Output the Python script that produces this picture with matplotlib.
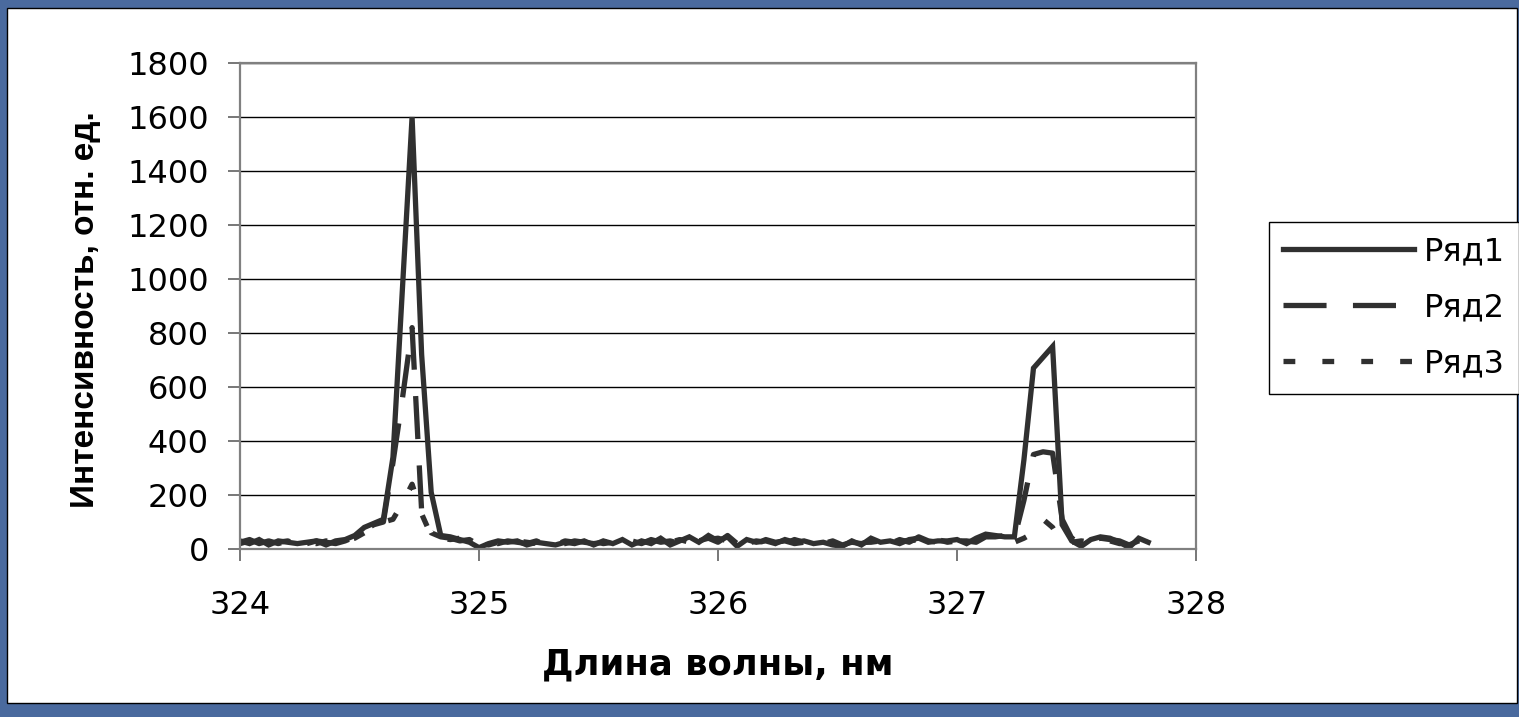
import matplotlib
matplotlib.use("Agg")
import matplotlib.pyplot as plt
from matplotlib.patches import Rectangle

# wavelength grid, nm
wavelength = [324.00, 324.04, 324.08, 324.12, 324.16, 324.20, 324.24, 324.28, 324.32, 324.36,
              324.40, 324.44, 324.48, 324.52, 324.56, 324.60, 324.64, 324.68, 324.72, 324.76,
              324.80, 324.84, 324.88, 324.92, 324.96, 325.00, 325.04, 325.08, 325.12, 325.16,
              325.20, 325.24, 325.28, 325.32, 325.36, 325.40, 325.44, 325.48, 325.52, 325.56,
              325.60, 325.64, 325.68, 325.72, 325.76, 325.80, 325.84, 325.88, 325.92, 325.96,
              326.00, 326.04, 326.08, 326.12, 326.16, 326.20, 326.24, 326.28, 326.32, 326.36,
              326.40, 326.44, 326.48, 326.52, 326.56, 326.60, 326.64, 326.68, 326.72, 326.76,
              326.80, 326.84, 326.88, 326.92, 326.96, 327.00, 327.04, 327.08, 327.12, 327.16,
              327.20, 327.24, 327.28, 327.32, 327.36, 327.40, 327.44, 327.48, 327.52, 327.56,
              327.60, 327.64, 327.68, 327.72, 327.76, 327.80]

row1 = [30, 20, 35, 15, 30, 25, 20, 25, 30, 15,
        30, 35, 50, 80, 95, 110, 340, 970, 1600, 720,
        210, 50, 45, 35, 25, 5, 20, 30, 25, 30,
        15, 25, 20, 15, 25, 20, 30, 15, 30, 20,
        35, 15, 30, 20, 40, 15, 30, 45, 25, 50,
        30, 45, 10, 35, 25, 30, 20, 35, 25, 30,
        20, 25, 15, 10, 30, 15, 40, 25, 30, 20,
        35, 40, 25, 30, 30, 35, 20, 40, 55, 50,
        45, 45, 330, 670, 710, 750, 90, 30, 10, 35,
        45, 40, 25, 5, 40, 25]

row2 = [25, 35, 20, 30, 20, 30, 25, 20, 30, 25,
        20, 30, 45, 70, 90, 100, 320, 560, 820, 140,
        60, 45, 40, 30, 35, 15, 25, 20, 30, 25,
        20, 30, 15, 25, 20, 30, 25, 20, 25, 30,
        25, 30, 20, 35, 25, 30, 20, 35, 30, 40,
        25, 50, 20, 30, 20, 35, 25, 30, 20, 25,
        30, 20, 30, 15, 25, 20, 30, 35, 20, 35,
        25, 45, 30, 25, 35, 30, 30, 25, 45, 45,
        50, 40, 180, 350, 360, 355, 110, 40, 20, 30,
        40, 35, 30, 15, 30, 30]

row3 = [20, 30, 25, 20, 25, 30, 15, 25, 20, 30,
        25, 30, 40, 60, 80, 100, 110, 170, 240, 130,
        50, 40, 35, 40, 25, 20, 15, 25, 20, 30,
        25, 20, 25, 15, 30, 25, 20, 30, 20, 25,
        30, 20, 25, 30, 20, 25, 35, 25, 30, 35,
        40, 30, 25, 20, 30, 25, 30, 20, 35, 25,
        25, 30, 20, 20, 15, 25, 25, 30, 25, 30,
        30, 35, 20, 35, 25, 30, 25, 35, 50, 40,
        40, 25, 40, 60, 110, 80, 20, 25, 30, 25,
        35, 30, 20, 20, 25, 35]

series_names = ["Ряд1", "Ряд2", "Ряд3"]
x_ticks = [324, 325, 326, 327, 328]
y_ticks = [0, 200, 400, 600, 800, 1000, 1200, 1400, 1600, 1800]

plt.rcParams['font.family'] = ['DejaVu Sans']
plt.rcParams['lines.scale_dashes'] = False

W, H = 1519, 717
fig = plt.figure(figsize=(W / 100, H / 100), dpi=100)
fig.patch.set_facecolor('#4a6a9e')
fig.add_artist(Rectangle((7 / W, 1 - 703 / H), (1517 - 7) / W, (703 - 8) / H,
                         transform=fig.transFigure, facecolor='white',
                         edgecolor='black', lw=1, zorder=0))

ax = fig.add_axes([240 / W, 1 - 549 / H, (1196 - 240) / W, (549 - 63) / H])
ax.set_facecolor('white')

col = '#303030'
ax.plot(wavelength, row1, color=col, lw=3.8, solid_joinstyle='miter', label=series_names[0])
ax.plot(wavelength, row2, color=col, lw=3.8, dashes=(31, 19), dash_capstyle='butt',
        label=series_names[1])
ax.plot(wavelength, row3, color=col, lw=3.8, dashes=(8.5, 19.5), dash_capstyle='butt',
        label=series_names[2])

ax.set_xlim(324, 328)
ax.set_ylim(0, 1800)
ax.set_xticks(x_ticks)
ax.set_yticks(y_ticks)
ax.set_xticklabels([str(t) for t in x_ticks])
ax.yaxis.grid(True, color='black', lw=1.0)
ax.set_axisbelow(True)
for s in ax.spines.values():
    s.set_color('#808080')
    s.set_linewidth(1.6)
ax.tick_params(axis='both', direction='out', length=8.5, width=1.2, color='#606060',
               labelsize=23)
ax.tick_params(axis='x', pad=21)
ax.tick_params(axis='y', pad=14)

ax.set_xlabel("Длина волны, нм", fontsize=25.5, fontweight='bold')
ax.xaxis.set_label_coords(0.5, (549 - 647) / 486)
ax.set_ylabel("Интенсивность, отн. ед.", fontsize=24, fontweight='bold',
              family='Liberation Sans')
ax.yaxis.set_label_coords((101 - 240) / 956, (549 - 310) / 486)

leg = ax.legend(loc='upper left', bbox_to_anchor=(1269 / W, 1 - 222 / H),
                bbox_transform=fig.transFigure, borderaxespad=0, fontsize=23,
                handlelength=4.1, handletextpad=0.3, labelspacing=0.78,
                fancybox=False, framealpha=1, edgecolor='black',
                borderpad=0.45)
leg.get_frame().set_linewidth(1.0)

fig.savefig("out.png", dpi=100, facecolor=fig.get_facecolor())
